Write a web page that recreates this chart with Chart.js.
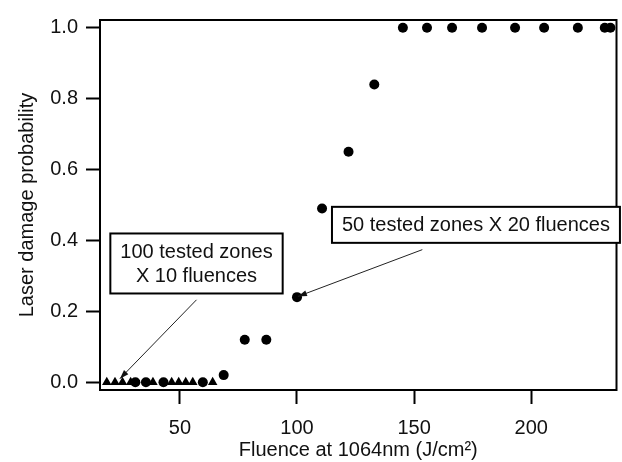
<!DOCTYPE html>
<html>
<head>
<meta charset="utf-8">
<script src="https://cdn.jsdelivr.net/npm/chart.js@4.4.1/dist/chart.umd.min.js"></script>
<style>
html,body{margin:0;padding:0;background:#fff;}
#wrap{width:622px;height:462px;}
</style>
</head>
<body>
<div id="wrap"><canvas id="c" width="622" height="462"></canvas></div>
<script>
// Series 1: 50 tested zones x 20 fluences (circles)
const circleX = [31, 35.5, 43, 59.8, 68.7, 77.7, 86.9, 100, 110.7, 122, 133, 145.2, 155.5, 166.2, 179, 193.1, 205.5, 219.9, 231.4, 233.8];
const circleY = [0, 0, 0, 0, 0.02, 0.12, 0.12, 0.24, 0.49, 0.65, 0.84, 1, 1, 1, 1, 1, 1, 1, 1, 1];
// Series 2: 100 tested zones x 10 fluences (triangles)
const triX = [18.8, 22.3, 25.5, 29, 38.5, 46.5, 49.5, 52.5, 55.5, 64];
const triY = [0, 0, 0, 0, 0, 0, 0, 0, 0, 0];
const xTicks = [50, 100, 150, 200];
const yTicks = [0, 0.2, 0.4, 0.6, 0.8, 1.0];
const annoLabels = [["100 tested zones", "X 10 fluences"], ["50 tested zones X 20 fluences"]];
// annotation anchors in data units: box centre, arrow start, arrow end
const annoBox = [[57.1, 0.335], [176.4, 0.444]];
const annoFrom = [[57.1, 0.2325], [153.5, 0.374]];
const annoTo = [[24.4, 0.010], [100.4, 0.242]];

const FONT = "'Liberation Sans', Arial, Helvetica, sans-serif";
const FS = 20;

const frame = {
  id: 'frame',
  afterDatasetsDraw(chart) {
    const {ctx, chartArea: a, scales} = chart;
    ctx.save();
    ctx.strokeStyle = '#000';
    ctx.lineWidth = 2;
    ctx.strokeRect(a.left, a.top, a.right - a.left, a.bottom - a.top);
    // annotations
    ctx.font = FS + 'px ' + FONT;
    ctx.textAlign = 'center';
    ctx.textBaseline = 'middle';
    for (let i = 0; i < annoLabels.length; i++) {
      const lines = annoLabels[i];
      const cx = scales.x.getPixelForValue(annoBox[i][0]);
      const cy = scales.y.getPixelForValue(annoBox[i][1]);
      const lh = 24;
      let w = 0;
      lines.forEach(l => { w = Math.max(w, ctx.measureText(l).width); });
      const bw = w + 20, bh = lines.length * lh + 12;
      ctx.fillStyle = '#fff';
      ctx.fillRect(cx - bw / 2, cy - bh / 2, bw, bh);
      ctx.lineWidth = 2;
      ctx.strokeStyle = '#000';
      ctx.strokeRect(cx - bw / 2, cy - bh / 2, bw, bh);
      ctx.fillStyle = '#111';
      lines.forEach((l, j) => {
        ctx.fillText(l, cx, cy - (lines.length - 1) * lh / 2 + j * lh + 1);
      });
      // arrow
      const x1 = scales.x.getPixelForValue(annoFrom[i][0]);
      const y1 = scales.y.getPixelForValue(annoFrom[i][1]);
      const x2 = scales.x.getPixelForValue(annoTo[i][0]);
      const y2 = scales.y.getPixelForValue(annoTo[i][1]);
      ctx.strokeStyle = '#222';
      ctx.lineWidth = 1;
      ctx.beginPath();
      ctx.moveTo(x1, y1);
      ctx.lineTo(x2, y2);
      ctx.stroke();
      const ang = Math.atan2(y2 - y1, x2 - x1);
      const L = 9, W = 3;
      ctx.fillStyle = '#111';
      ctx.beginPath();
      ctx.moveTo(x2, y2);
      ctx.lineTo(x2 - L * Math.cos(ang) + W * Math.sin(ang), y2 - L * Math.sin(ang) - W * Math.cos(ang));
      ctx.lineTo(x2 - L * Math.cos(ang) - W * Math.sin(ang), y2 - L * Math.sin(ang) + W * Math.cos(ang));
      ctx.closePath();
      ctx.fill();
    }
    ctx.restore();
  }
};

new Chart(document.getElementById('c'), {
  type: 'scatter',
  data: {
    datasets: [
      {
        label: '50 tested zones X 20 fluences',
        data: circleX.map((x, i) => ({x, y: circleY[i]})),
        pointStyle: 'circle',
        pointRadius: 5,
        backgroundColor: '#000',
        borderColor: '#000',
        borderWidth: 0
      },
      {
        label: '100 tested zones X 10 fluences',
        data: triX.map((x, i) => ({x, y: triY[i]})),
        pointStyle: 'triangle',
        pointRadius: 5.5,
        backgroundColor: '#000',
        borderColor: '#000',
        borderWidth: 0
      }
    ]
  },
  options: {
    responsive: false,
    animation: false,
    devicePixelRatio: 1,
    layout: {padding: {top: 14, right: 5, left: 0, bottom: 0}},
    plugins: {legend: {display: false}, tooltip: {enabled: false}},
    scales: {
      x: {
        type: 'linear',
        min: 15.9, max: 236.4,
        afterBuildTicks: s => { s.ticks = xTicks.map(v => ({value: v})); },
        afterFit: s => { s.height = 72; },
        grid: {display: true, drawOnChartArea: false, drawTicks: true, tickLength: 14, tickWidth: 2, tickColor: '#000'},
        border: {display: true, color: '#000', width: 2},
        ticks: {color: '#111', font: {size: FS, family: FONT}, padding: 12, maxRotation: 0},
        title: {display: true, text: 'Fluence at 1064nm (J/cm²)', color: '#111', font: {size: FS, family: FONT}, padding: {top: 0, bottom: 0}}
      },
      y: {
        type: 'linear',
        min: -0.022, max: 1.022,
        afterBuildTicks: s => { s.ticks = yTicks.map(v => ({value: v})); },
        afterFit: s => { s.width = 100; },
        grid: {display: true, drawOnChartArea: false, drawTicks: true, tickLength: 14, tickWidth: 2, tickColor: '#000'},
        border: {display: true, color: '#000', width: 2},
        ticks: {color: '#111', font: {size: FS, family: FONT}, padding: 8, callback: v => v.toFixed(1)},
        title: {display: true, text: 'Laser damage probability', color: '#111', font: {size: FS, family: FONT}, padding: {top: 15, bottom: 0}}
      }
    }
  },
  plugins: [frame]
});
</script>
</body>
</html>
